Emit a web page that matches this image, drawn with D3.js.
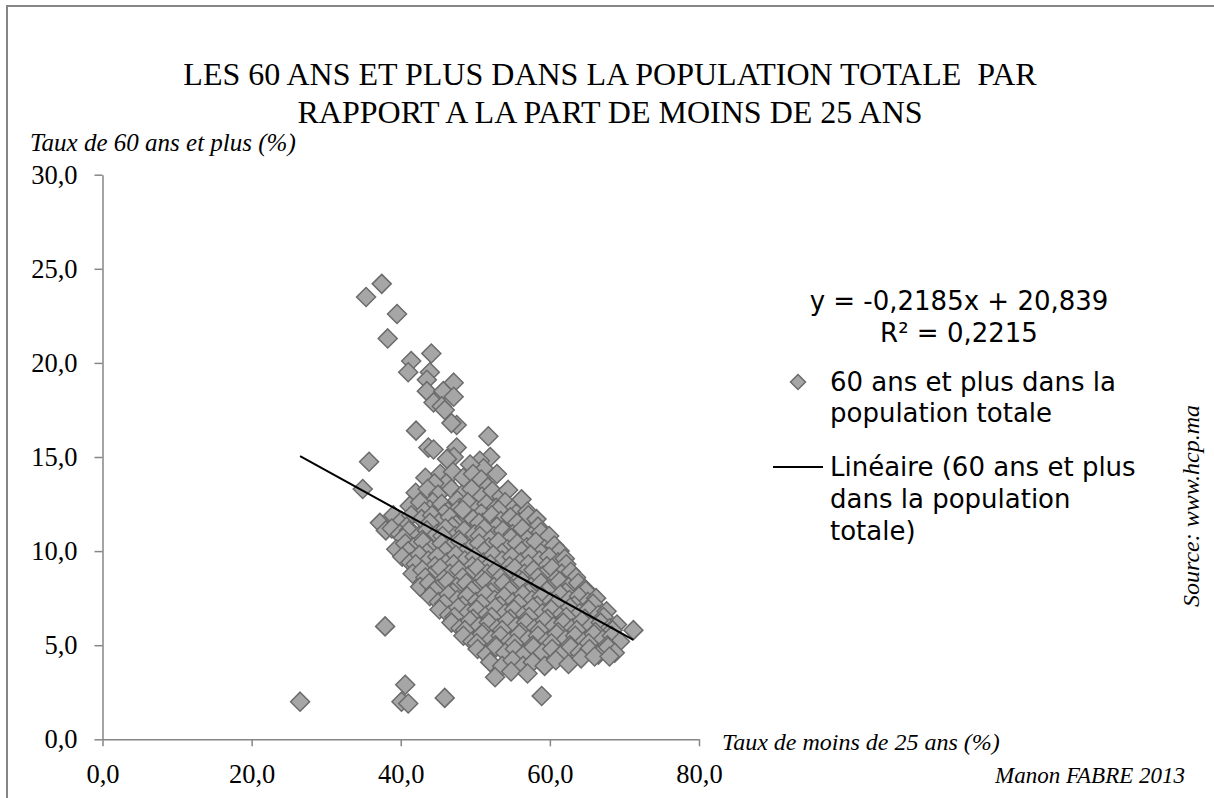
<!DOCTYPE html>
<html lang="fr">
<head>
<meta charset="UTF-8">
<title>60 ans et plus / moins de 25 ans</title>
<script src="https://cdn.jsdelivr.net/npm/d3@7/dist/d3.min.js"></script>
<style>
	body { margin: 0; background: #fff; }
	.serif { font-family: "Liberation Serif", "Times New Roman", serif; }
	.sans { font-family: "DejaVu Sans", Verdana, sans-serif; }
	.axis path, .axis line { stroke: #868686; stroke-width: 1.5px; }
	.axis text { font-family: "Liberation Serif", serif; font-size: 26.5px; fill: #000; }
	.pt { fill: #a6a6a6; stroke: #6b6b6b; stroke-width: 1.5px; }
</style>
</head>
<body>
<script>
// x = taux de moins de 25 ans (%), y = taux de 60 ans et plus (%)
var isoles = [
	[26.5, 2.0], [37.9, 6.0], [40.6, 2.9], [40.1, 2.0], [41.0, 1.9], [45.9, 2.2], [58.9, 2.3],
	[34.9, 13.3], [35.75, 14.75], [37.2, 11.5], [38.0, 11.1], [39.0, 11.9], [40.6, 11.56]
];

var haut = [
	[37.45, 24.2], [35.35, 23.5], [39.5, 22.6], [38.25, 21.3], [41.4, 20.1], [44.1, 20.5],
	[41.0, 19.5], [43.9, 19.5], [43.5, 19.1], [47.1, 18.95], [43.5, 18.5], [45.7, 18.5],
	[47.1, 18.2], [44.4, 17.9], [45.5, 17.7], [45.9, 17.5], [47.5, 16.7], [46.8, 16.8],
	[42.05, 16.4], [51.75, 16.1], [43.7, 15.5], [44.4, 15.4], [47.5, 15.5], [47.1, 15.0],
	[52.0, 15.0], [50.6, 14.8], [51.1, 14.4], [49.3, 14.6], [46.2, 14.9]
];

var nuage = [
	[43.3, 13.9], [45.3, 14.1], [47.0, 14.2], [48.4, 13.9], [49.7, 14.1], [52.9, 14.1], [50.8, 13.8], [46.1, 13.6], [44.5, 13.6], [51.7, 13.4],
	[42.0, 13.1], [43.6, 13.3], [45.0, 13.0], [46.8, 13.3], [48.2, 13.0], [49.5, 13.3], [50.9, 12.9], [52.3, 13.2], [53.5, 12.9], [54.4, 13.25], [47.6, 12.7], [44.3, 12.6],
	[41.2, 12.4], [42.6, 12.6], [43.9, 12.2], [45.5, 12.5], [46.3, 12.1], [47.9, 12.3], [49.0, 12.6], [50.2, 12.2], [51.5, 12.5], [52.8, 12.3], [54.0, 12.6], [55.2, 12.3], [56.2, 12.75], [48.6, 11.9],
	[43.2, 12.1], [45.9, 12.0], [48.3, 12.2], [50.8, 12.0], [53.1, 12.2], [55.5, 12.0], [57.0, 12.1],
	[40.1, 11.6], [41.4, 11.9], [42.8, 11.7], [44.2, 11.9], [45.1, 11.5], [46.6, 11.8], [47.4, 11.4], [49.7, 11.7], [51.0, 11.5], [52.2, 11.9], [53.4, 11.6], [54.7, 11.8], [55.9, 11.5], [57.1, 11.9], [58.2, 11.7],
	[40.8, 11.3], [43.9, 11.5], [46.9, 11.3], [50.5, 11.5], [52.9, 11.3], [55.6, 11.5], [58.4, 11.3],
	[38.8, 11.2], [39.9, 10.9], [41.1, 11.1], [42.4, 10.8], [43.5, 11.1], [44.8, 10.9], [46.0, 11.2], [47.3, 10.8], [48.5, 11.1], [49.9, 10.9], [51.2, 11.2], [52.5, 10.8], [53.7, 11.1], [55.0, 10.9], [56.3, 11.2], [57.5, 10.8], [58.8, 11.0], [59.5, 10.6],
	[40.3, 10.7], [42.9, 10.6], [45.6, 10.8], [47.8, 10.6], [50.6, 10.8], [52.0, 10.6], [54.8, 10.7], [57.0, 10.6], [59.9, 10.8],
	[39.4, 10.1], [40.6, 10.4], [41.7, 10.2], [43.0, 10.5], [44.1, 10.1], [45.5, 10.4], [46.7, 10.2], [48.0, 10.5], [49.2, 10.1], [50.5, 10.4], [51.8, 10.2], [53.1, 10.5], [54.3, 10.1], [55.6, 10.4], [56.9, 10.2], [58.1, 10.5], [59.3, 10.1], [60.6, 10.3],
	[41.0, 10.0], [43.5, 9.9], [46.0, 10.0], [48.5, 9.9], [51.2, 10.0], [53.6, 9.9], [56.2, 10.0], [58.8, 9.9], [61.3, 10.0],
	[40.2, 9.7], [41.3, 9.4], [42.5, 9.8], [43.7, 9.5], [44.9, 9.7], [46.2, 9.4], [47.4, 9.8], [48.6, 9.5], [49.9, 9.7], [51.1, 9.4], [52.4, 9.8], [53.6, 9.5], [54.9, 9.7], [56.1, 9.4], [57.4, 9.8], [58.6, 9.5], [59.9, 9.7], [61.1, 9.4], [62.0, 9.6],
	[42.0, 9.3], [44.6, 9.2], [47.1, 9.3], [49.6, 9.2], [52.0, 9.3], [54.6, 9.2], [57.1, 9.3], [59.6, 9.2], [62.2, 9.3],
	[41.6, 8.8], [42.9, 9.0], [44.1, 8.7], [45.3, 9.1], [46.6, 8.8], [47.8, 9.0], [49.1, 8.7], [50.3, 9.1], [51.6, 8.8], [52.8, 9.0], [54.1, 8.7], [55.3, 9.1], [56.6, 8.8], [57.8, 9.0], [59.1, 8.7], [60.3, 9.1], [61.6, 8.8], [62.8, 8.9],
	[43.3, 8.6], [45.8, 8.5], [48.3, 8.6], [50.9, 8.5], [53.4, 8.6], [55.9, 8.5], [58.4, 8.6], [60.9, 8.5], [63.5, 8.6],
	[42.6, 8.1], [43.8, 8.3], [45.0, 8.0], [46.3, 8.4], [47.5, 8.1], [48.8, 8.3], [50.0, 8.0], [51.3, 8.4], [52.5, 8.1], [53.8, 8.3], [55.0, 8.0], [56.3, 8.4], [57.5, 8.1], [58.8, 8.3], [60.0, 8.0], [61.3, 8.4], [62.5, 8.1], [63.8, 8.3], [64.7, 8.0],
	[44.5, 7.9], [47.0, 7.8], [49.5, 7.9], [52.1, 7.8], [54.6, 7.9], [57.1, 7.8], [59.6, 7.9], [62.1, 7.8], [64.8, 7.9],
	[43.9, 7.6], [45.1, 7.3], [46.4, 7.7], [47.6, 7.4], [48.9, 7.6], [50.1, 7.3], [51.4, 7.7], [52.6, 7.4], [53.9, 7.6], [55.1, 7.3], [56.4, 7.7], [57.6, 7.4], [58.9, 7.6], [60.1, 7.3], [61.4, 7.7], [62.6, 7.4], [63.9, 7.6], [65.1, 7.3], [66.2, 7.5],
	[45.8, 7.2], [48.3, 7.1], [50.8, 7.2], [53.3, 7.1], [55.8, 7.2], [58.3, 7.1], [60.8, 7.2], [63.3, 7.1], [65.8, 7.2],
	[45.2, 6.9], [46.5, 6.6], [47.7, 7.0], [49.0, 6.7], [50.2, 6.9], [51.5, 6.6], [52.7, 7.0], [54.0, 6.7], [55.2, 6.9], [56.5, 6.6], [57.7, 7.0], [59.0, 6.7], [60.2, 6.9], [61.5, 6.6], [62.7, 7.0], [64.0, 6.7], [65.2, 6.9], [66.5, 6.6], [67.6, 6.8],
	[47.2, 6.5], [49.7, 6.4], [52.2, 6.5], [54.7, 6.4], [57.2, 6.5], [59.7, 6.4], [62.2, 6.5], [64.7, 6.4], [67.2, 6.5],
	[46.8, 6.2], [48.0, 5.9], [49.3, 6.3], [50.5, 6.0], [51.8, 6.2], [53.0, 5.9], [54.3, 6.3], [55.5, 6.0], [56.8, 6.2], [58.0, 5.9], [59.3, 6.3], [60.5, 6.0], [61.8, 6.2], [63.0, 5.9], [64.3, 6.3], [65.5, 6.0], [66.8, 6.2], [68.0, 5.9], [69.0, 6.1],
	[48.6, 5.8], [51.1, 5.7], [53.6, 5.8], [56.1, 5.7], [58.6, 5.8], [61.1, 5.7], [63.6, 5.8], [66.1, 5.7], [68.4, 5.8],
	[48.4, 5.5], [49.6, 5.2], [50.9, 5.6], [52.1, 5.3], [53.4, 5.5], [54.6, 5.2], [55.9, 5.6], [57.1, 5.3], [58.4, 5.5], [59.6, 5.2], [60.9, 5.6], [62.1, 5.3], [63.4, 5.5], [64.6, 5.2], [65.9, 5.6], [67.1, 5.3], [68.3, 5.5], [69.4, 5.2],
	[50.2, 5.1], [52.7, 5.0], [55.2, 5.1], [57.7, 5.0], [60.2, 5.1], [62.7, 5.0], [65.2, 5.1], [67.7, 5.0],
	[50.3, 4.8], [51.5, 4.5], [52.8, 4.9], [54.0, 4.6], [55.3, 4.8], [56.5, 4.5], [57.8, 4.9], [59.0, 4.6], [60.3, 4.8], [61.5, 4.5], [62.8, 4.9], [64.0, 4.6], [65.3, 4.8], [66.5, 4.5], [67.8, 4.9], [68.7, 4.6],
	[52.0, 4.1], [53.6, 3.9], [55.0, 4.2], [56.4, 3.9], [57.7, 4.1], [59.3, 3.9], [60.8, 4.2], [62.5, 4.0], [64.2, 4.3], [66.0, 4.4], [68.0, 4.4],
	[52.65, 3.3], [54.8, 3.6], [57.0, 3.5], [71.2, 5.8]
];

var xTicks = [0, 20, 40, 60, 80];
var yTicks = [0, 5, 10, 15, 20, 25, 30];
var pente = -0.2185, origine = 20.839;

var W = 1214, H = 798;
var svg = d3.select('body').append('svg').attr('width', W).attr('height', H);

// cadre
svg.append('rect').attr('x', 7).attr('y', 6).attr('width', W + 20).attr('height', H + 20)
	.attr('fill', 'none').attr('stroke', '#868686').attr('stroke-width', 2);

var x = d3.scaleLinear().domain([0, 80]).range([102.5, 699]);
var y = d3.scaleLinear().domain([0, 30]).range([739.3, 174.7]);
var fmt = function (d) { return d3.format('.1f')(d).replace('.', ','); };

svg.append('g').attr('class', 'axis').attr('transform', 'translate(0,' + y(0) + ')')
	.call(d3.axisBottom(x).tickValues(xTicks).tickSize(7).tickSizeOuter(0).tickPadding(18).tickFormat(fmt));
svg.append('g').attr('class', 'axis').attr('transform', 'translate(' + x(0) + ',0)')
	.call(d3.axisLeft(y).tickValues(yTicks).tickSize(8).tickSizeOuter(0).tickPadding(17).tickFormat(fmt));

// titre
var titre = svg.append('text').attr('class', 'serif').attr('text-anchor', 'middle')
	.attr('font-size', 32);
titre.append('tspan').attr('x', 610).attr('y', 85).text('LES 60 ANS ET PLUS DANS LA POPULATION TOTALE\u00a0 PAR');
titre.append('tspan').attr('x', 610).attr('y', 123).text('RAPPORT A LA PART DE MOINS DE 25 ANS');

svg.append('text').attr('class', 'serif').attr('font-style', 'italic').attr('font-size', 25)
	.attr('x', 30).attr('y', 151).text('Taux de 60 ans et plus (%)');
svg.append('text').attr('class', 'serif').attr('font-style', 'italic').attr('font-size', 24)
	.attr('x', 722).attr('y', 750).text('Taux de moins de 25 ans (%)');
svg.append('text').attr('class', 'serif').attr('font-style', 'italic').attr('font-size', 23)
	.attr('text-anchor', 'end').attr('x', 1185).attr('y', 783).text('Manon FABRE 2013');
svg.append('text').attr('class', 'serif').attr('font-style', 'italic').attr('font-size', 24)
	.attr('text-anchor', 'middle').attr('transform', 'translate(1199,506) rotate(-90)')
	.text('Source: www.hcp.ma');

// points
var diamant = function (r) { return 'M0,' + (-r) + 'L' + r + ',0L0,' + r + 'L' + (-r) + ',0Z'; };
var tous = isoles.concat(haut, nuage);
svg.append('g').selectAll('path').data(tous).enter().append('path')
	.attr('class', 'pt')
	.attr('d', diamant(9.5))
	.attr('transform', function (d) { return 'translate(' + x(d[0]) + ',' + y(d[1]) + ')'; });

// droite de tendance
var xmin = d3.min(tous, function (d) { return d[0]; }), xmax = d3.max(tous, function (d) { return d[0]; });
svg.append('line')
	.attr('x1', x(xmin)).attr('y1', y(pente * xmin + origine))
	.attr('x2', x(xmax)).attr('y2', y(pente * xmax + origine))
	.attr('stroke', '#000').attr('stroke-width', 2);

// legende
var leg = svg.append('g').attr('class', 'sans').attr('font-size', 26);
leg.append('text').attr('x', 959).attr('y', 310).attr('text-anchor', 'middle').text('y = -0,2185x + 20,839');
leg.append('text').attr('x', 959).attr('y', 342).attr('text-anchor', 'middle').text('R\u00b2 = 0,2215');
leg.append('path').attr('class', 'pt').attr('d', diamant(7.5)).attr('transform', 'translate(798,382)');
leg.append('text').attr('x', 830).attr('y', 391).text('60 ans et plus dans la');
leg.append('text').attr('x', 830).attr('y', 422).text('population totale');
leg.append('line').attr('x1', 773).attr('x2', 823).attr('y1', 467).attr('y2', 467)
	.attr('stroke', '#000').attr('stroke-width', 2);
leg.append('text').attr('x', 830).attr('y', 476).text('Lin\u00e9aire (60 ans et plus');
leg.append('text').attr('x', 830).attr('y', 508).text('dans la population');
leg.append('text').attr('x', 830).attr('y', 540).text('totale)');
</script>
</body>
</html>
